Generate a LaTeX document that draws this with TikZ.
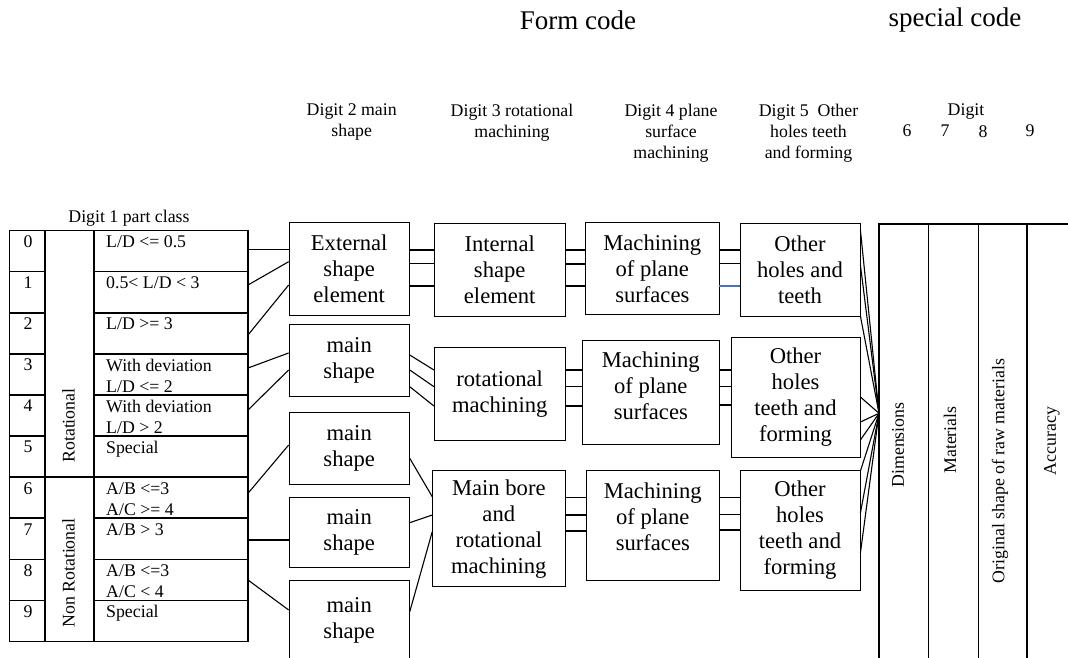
\documentclass[tikz,border=0pt]{standalone}
\usepackage{fontspec}
\setmainfont{Liberation Serif}
\usetikzlibrary{positioning}
\definecolor{linkblue}{RGB}{68,114,196}

\begin{document}
\begin{tikzpicture}[x=1pt,y=1pt,
  blk/.style={draw,line width=0.8pt,rectangle,align=center,inner sep=0pt,font=\fontsize{22.6}{26}\selectfont},
  btxt/.style={align=center,inner sep=0pt,font=\fontsize{22.6}{26}\selectfont},
  small/.style={inner sep=0pt,font=\fontsize{17.8}{21}\selectfont},
  big/.style={inner sep=0pt,font=\fontsize{27}{32}\selectfont},
  link/.style={line width=1.1pt},
  grid/.style={line width=1.6pt}]
\useasboundingbox (0,0) rectangle (1068,-658);

% titles
\node[big] (form) at (578,-20) {Form code};
\node[big] (spec) at (955,-20) {special code};

% column heads
\node[small,align=center,anchor=north] (h2) at (351.7,-104) {Digit 2 main\\shape};
\node[small,align=center,anchor=north] (h3) at (512,-104) {Digit 3 rotational\\machining};
\node[small,align=center,anchor=north] (h4) at (671,-104) {Digit 4 plane\\surface\\machining};
\node[small,align=center,anchor=north] (h5) at (808.5,-104) {Digit 5~ Other\\holes teeth\\and forming};
\node[small,anchor=north] (h6) at (966,-104) {Digit};
\foreach \n/\x in {6/907,7/945,8/983,9/1030}
  \node[small,anchor=north] (k\n) at (\x,-125) {\n};

% digit 1 table
\node[small] (h1) at (129,-218) {Digit 1 part class};
\draw[grid] (9.5,-230.5) rectangle (248,-641.5);
\draw[grid] (45,-230.5) -- (45,-641.5) (94,-230.5) -- (94,-641.5);
\foreach \r in {1,...,9}{
  \pgfmathsetmacro\yl{-230.5-41.1*\r}
  \draw[grid] (9.5,\yl) -- (45,\yl) (94,\yl) -- (248,\yl);
}
\draw[grid] (45,-477.1) -- (94,-477.1);
\foreach \r/\t in {0/{L/D <= 0.5},1/{0.5< L/D < 3},2/{L/D >= 3},
    3/{With deviation\\L/D <= 2},4/{With deviation\\L/D > 2},5/{Special},
    6/{A/B <=3\\A/C >= 4},7/{A/B > 3},8/{A/B <=3\\A/C < 4},9/{Special}}{
  \pgfmathsetmacro\yt{-230.5-41.1*\r}
  \node[small,anchor=north] (n\r) at (28,\yt-5) {\r};
  \node[small,align=left,anchor=north west] (d\r) at (106,\yt-5) {\t};
  \coordinate (r\r) at (248,\yt-20.55);
}
\node[small,rotate=90] (rot) at (68.5,-425.5) {Rotational};
\node[small,rotate=90] (nonrot) at (68.5,-573) {Non Rotational};

% digit 2 boxes
\node[blk,minimum width=120.3,minimum height=92.6] (E1) at (349.2,-269) {External\\shape\\element};
\node[blk,minimum width=120.3,minimum height=71.7] (M2) at (349.2,-360.2) {main\\shape};
\node[blk,minimum width=120.3,minimum height=71.3] (M3) at (349.2,-448.3) {main\\shape};
\node[blk,minimum width=120.3,minimum height=69.7] (M4) at (349.2,-532.2) {main\\shape};
\node[blk,minimum width=120.3,minimum height=80] (M5) at (349.2,-620) {main\\shape};

% digit 3 boxes
\node[blk,minimum width=130.7,minimum height=92.7] (I1) at (499.7,-269.7) {Internal\\shape\\element};
\node[blk,minimum width=130.7,minimum height=92.7] (R2) at (499.7,-393.7) {rotational\\machining};
\node[blk,minimum width=132.3,minimum height=116] (B3) at (498.8,-528.7) {Main bore\\and\\rotational\\machining};

% digit 4 boxes
\node[blk,minimum width=133.3,minimum height=92] (P1) at (652.3,-268.3) {Machining\\of plane\\surfaces};
\node[blk,minimum width=136.3,minimum height=104] (P2) at (650.8,-392) {};
\node[btxt] (P2t) at ([yshift=6]P2.center) {Machining\\of plane\\surfaces};
\node[blk,minimum width=132.3,minimum height=109.3] (P3) at (652.8,-525.3) {};
\node[btxt] (P3t) at ([yshift=8.6]P3.center) {Machining\\of plane\\surfaces};

% digit 5 boxes
\node[blk,minimum width=120,minimum height=92.7] (O1) at (800,-269.7) {Other\\holes and\\teeth};
\node[blk,minimum width=129,minimum height=120.3] (O2) at (795.5,-397.2) {Other\\holes\\teeth and\\forming};
\node[blk,minimum width=120,minimum height=119.3] (O3) at (800,-530.3) {Other\\holes\\teeth and\\forming};

% digits 6-9 table
\draw[grid] (1068,-224) -- (879,-224) -- (879,-658);
\foreach \x in {928.3,978.3,1026.7}
  \draw[grid] (\x,-224) -- (\x,-658);
\coordinate (F) at (879,-413.3);
\node[small,rotate=90] (dim) at (898,-445) {Dimensions};
\node[small,rotate=90] (mat) at (950,-440) {Materials};
\node[small,rotate=90] (raw) at (1000,-471) {Original shape of raw materials};
\node[small,rotate=90] (acc) at (1052,-441) {Accuracy};

% digit 1 -> digit 2
\draw[link] (r0 |- 0,-249.3) -- (E1.west |- 0,-249.3);
\draw[link] (r1 |- 0,-285) -- (E1.west |- 0,-261.7);
\draw[link] (r2 |- 0,-335) -- (E1.west |- 0,-285);
\draw[link] (r3 |- 0,-368) -- (M2.west |- 0,-353);
\draw[link] (r4 |- 0,-410) -- (M2.west |- 0,-370);
\draw[link] (r6 |- 0,-493.3) -- (M3.west |- 0,-445);
\draw[link] (r7 |- 0,-540) -- (M4.west |- 0,-540);
\draw[link] (r8 |- 0,-580) -- (M5.west |- 0,-610);

% digit 2 -> digit 3
\foreach \y in {250,263.3,286}
  \draw[link] (E1.east |- 0,-\y) -- (I1.west |- 0,-\y);
\foreach \ya/\yb in {355/370,370/386.7,386.7/406}
  \draw[link] (M2.east |- 0,-\ya) -- (R2.west |- 0,-\yb);
\draw[link] (M3.east |- 0,-458.3) -- (B3.west |- 0,-496.7);
\draw[link] (M4.east |- 0,-522.7) -- (B3.west |- 0,-515);
\draw[link] (M5.east |- 0,-611.7) -- (B3.west |- 0,-531.7);

% digit 3 -> digit 4
\foreach \y in {250,264,286}
  \draw[link] (I1.east |- 0,-\y) -- (P1.west |- 0,-\y);
\foreach \y in {370,386.7,406}
  \draw[link] (R2.east |- 0,-\y) -- (P2.west |- 0,-\y);
\foreach \y in {497.7,515,531}
  \draw[link] (B3.east |- 0,-\y) -- (P3.west |- 0,-\y);

% digit 4 -> digit 5
\foreach \y in {250,263.3}
  \draw[link] (P1.east |- 0,-\y) -- (O1.west |- 0,-\y);
\draw[link,linkblue] (P1.east |- 0,-286) -- (O1.west |- 0,-286);
\foreach \y in {370,386.7,405}
  \draw[link] (P2.east |- 0,-\y) -- (O2.west |- 0,-\y);
\foreach \y in {497.7,514.3,530}
  \draw[link] (P3.east |- 0,-\y) -- (O3.west |- 0,-\y);

% digit 5 -> digits 6-9
\foreach \y in {230,265,316}
  \draw[link] (O1.east |- 0,-\y) -- (F);
\foreach \y in {397,422,440}
  \draw[link] (O2.east |- 0,-\y) -- (F);
\foreach \y in {471,513,553}
  \draw[link] (O3.east |- 0,-\y) -- (F);
\end{tikzpicture}
\end{document}
